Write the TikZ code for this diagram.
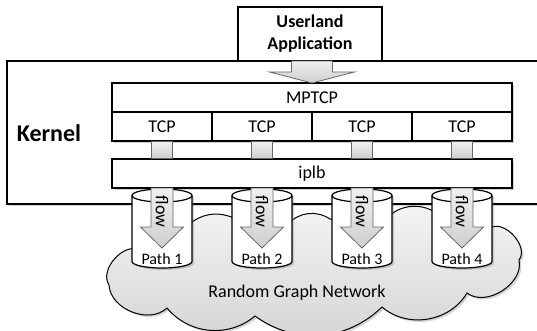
\documentclass[tikz,border=0pt]{standalone}
\usepackage{fontspec}
\setmainfont{Carlito}
\usetikzlibrary{shadows}

\newcommand{\blockarrow}[6]{% x, top, shaft half width, shaft end, head half width, tip
  \draw[fatarrow] (#1-#3,#2) -- (#1+#3,#2) -- (#1+#3,#4) -- (#1+#5,#4)
    -- (#1,#6) -- (#1-#5,#4) -- (#1-#3,#4) -- cycle;}

\begin{document}
\begin{tikzpicture}[x=1pt,y=-1pt,
    every node/.style={font=\fontsize{18}{21}\selectfont},
    shade/.style={drop shadow={opacity=0.35,shadow xshift=2pt,shadow yshift=-2pt}},
    box/.style={draw,line width=1.2pt,fill=white,inner sep=0pt,minimum height=29pt,shade},
    fatarrow/.style={draw=black!60,line width=0.8pt,top color=gray!12,bottom color=gray!38},
    cylbox/.style={minimum width=60pt,minimum height=79pt,inner sep=0pt},
    cylbody/.style={draw,line width=1.2pt,fill=white,shade},
    netcloud/.style={draw,line width=1pt,top color=gray!8,bottom color=gray!34,shade}]
  \useasboundingbox (0,0) rectangle (537,330);

  % kernel and userland
  \draw[line width=2pt,fill=white,shade] (7,61) rectangle (560,204);
  \node[font=\fontsize{24}{28}\selectfont\bfseries] (kernel) at (49,133) {Kernel};
  \node[draw,line width=2pt,fill=white,minimum width=144pt,minimum height=54pt,
    align=center,font=\fontsize{18}{22}\selectfont\bfseries] (user) at (310,34)
    {Userland\\Application};

  % stack
  \node[box,minimum width=400pt] (mptcp) at (312,97.5) {MPTCP};
  \foreach \i in {1,...,4} {
    \node[box,minimum width=100pt] (tcp\i) at ({62+100*\i},126.5) {TCP};
  }
  \node[box,minimum width=400pt] (iplb) at (312,173.5) {iplb};
  \foreach \i in {1,...,4} {
    \draw[fatarrow] ([xshift=-10.5pt]tcp\i.south) rectangle ([xshift=10.5pt]tcp\i.south |- iplb.north);
  }
  \blockarrow{312}{61}{20.5}{72}{42.5}{83}

  % network cloud
  \draw[netcloud] (140,250) to[bend right=75] (109,285) to[bend right=65] (167,308)
    to[bend right=45] (255,316) to[bend right=40] (382,307) to[bend right=50] (467,293)
    to[bend right=70] (519,260) to[bend right=80] (490,228) -- (440,216)
    to[bend right=45] (386,219) -- (330,219) to[bend right=40] (288,224) -- (236,219)
    to[bend right=35] (186,227) -- cycle;
  \node (net) at (297,293) {Random Graph Network};

  % paths
  \foreach \i [evaluate=\i as \x using 62+100*\i] in {1,...,4} {
    \node[cylbox] (path\i) at (\x,228.5) {};
    \draw[cylbody] (\x-30,195.5) -- (\x-30,261.5)
      arc[start angle=180,end angle=360,x radius=30pt,y radius=6.5pt]
      -- (\x+30,195.5) arc[start angle=0,end angle=180,x radius=30pt,y radius=6.5pt] -- cycle;
    \draw[line width=1.2pt] (\x-30,195.5) arc[start angle=180,end angle=360,x radius=30pt,y radius=6.5pt];
    \blockarrow{\x}{188}{11}{227}{21.5}{248}
    \node[rotate=-90] (flow\i) at (\x,211.5) {flow};
    \node[font=\fontsize{16}{19}\selectfont] (name\i) at (\x,259) {Path \i};
  }
\end{tikzpicture}
\end{document}
